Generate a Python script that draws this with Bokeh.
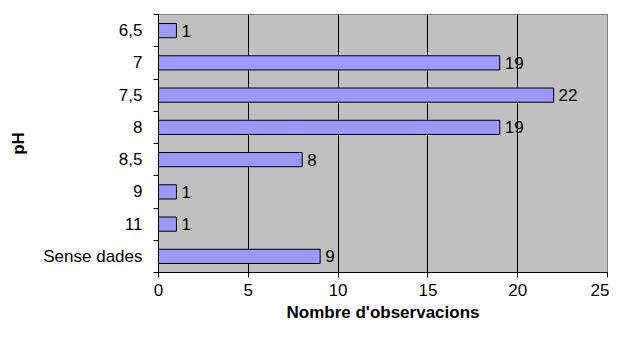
from bokeh.plotting import figure
from bokeh.models import Range1d, FixedTicker, ColumnDataSource
from bokeh.core.properties import value
from bokeh.embed import file_html
from bokeh.resources import INLINE

categories = ["6,5", "7", "7,5", "8", "8,5", "9", "11", "Sense dades"]
counts = [1, 19, 22, 19, 8, 1, 1, 9]
x_ticks = [0, 5, 10, 15, 20, 25]

FONT = "Liberation Sans"
n = len(categories)
ypos = [n - i - 0.5 for i in range(n)]
src = ColumnDataSource(dict(y=ypos, x=counts, lab=[str(c) for c in counts]))

p = figure(width=609, height=324, output_backend="svg", toolbar_location=None,
           x_range=Range1d(0, 25), y_range=Range1d(0, n),
           min_border_left=158, min_border_right=2, min_border_top=14,
           min_border_bottom=50)
p.background_fill_color = "#C0C0C0"
p.border_fill_color = "white"
p.outline_line_color = "#808080"

p.hbar(y="y", right="x", left=0, height=0.44, source=src,
       fill_color="#9999FF", line_color="black", line_width=1)
p.text(x="x", y="y", text="lab", source=src, x_offset=5,
       text_baseline="middle", text_align="left",
       text_font=value(FONT), text_font_size="17px", text_color="black")

# x axis
p.xaxis.ticker = FixedTicker(ticks=x_ticks)
p.xaxis.axis_label = "Nombre d'observacions"
p.xaxis.axis_label_text_font = FONT
p.xaxis.axis_label_text_font_style = "bold"
p.xaxis.axis_label_text_font_size = "17px"
p.xaxis.axis_label_text_color = "black"
p.xaxis.axis_label_standoff = 4
p.xaxis.major_label_text_font = FONT
p.xaxis.major_label_text_font_size = "17px"
p.xaxis.major_label_text_color = "black"
p.xaxis.major_label_standoff = 6
p.xaxis.major_tick_out = 5
p.xaxis.major_tick_in = 0
p.xaxis.minor_tick_line_color = None
p.xaxis.axis_line_color = "black"
p.xaxis.major_tick_line_color = "black"

# y axis
p.yaxis.ticker = FixedTicker(ticks=ypos, minor_ticks=list(range(n + 1)))
p.yaxis.major_label_overrides = {y: c for y, c in zip(ypos, categories)}
p.yaxis.axis_label = "pH"
p.yaxis.axis_label_text_font = FONT
p.yaxis.axis_label_text_font_style = "bold"
p.yaxis.axis_label_text_font_size = "17px"
p.yaxis.axis_label_text_color = "black"
p.yaxis.axis_label_standoff = 12
p.yaxis.major_label_text_font = FONT
p.yaxis.major_label_text_font_size = "17px"
p.yaxis.major_label_text_color = "black"
p.yaxis.major_label_standoff = 11
p.yaxis.major_tick_out = 0
p.yaxis.major_tick_in = 0
p.yaxis.minor_tick_out = 5
p.yaxis.minor_tick_in = 0
p.yaxis.minor_tick_line_color = "black"
p.yaxis.axis_line_color = "black"

# grid
p.xgrid.ticker = FixedTicker(ticks=x_ticks[1:-1])
p.xgrid.grid_line_color = "black"
p.xgrid.grid_line_width = 1
p.ygrid.visible = False

open("out.html", "w").write(file_html(p, INLINE))
